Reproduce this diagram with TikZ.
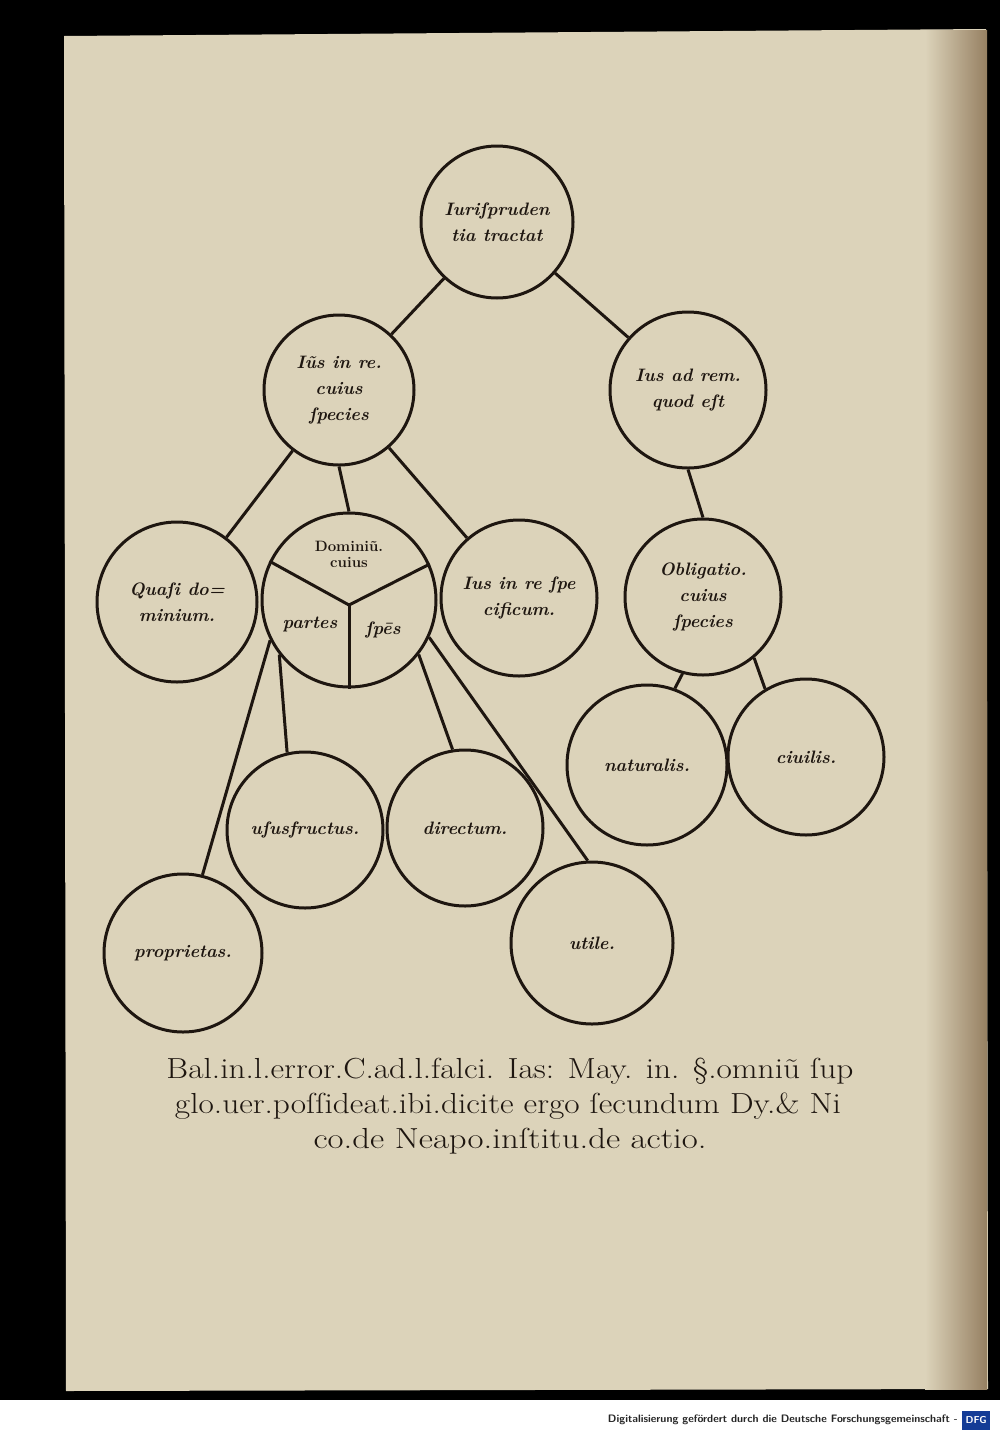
\documentclass[tikz,border=0pt]{standalone}
\usepackage{fontspec}
\usetikzlibrary{positioning}
\definecolor{paper}{RGB}{220,211,186}
\definecolor{paperdark}{RGB}{150,128,98}
\definecolor{ink}{RGB}{30,22,16}
\definecolor{dfgblue}{RGB}{20,60,150}

\begin{document}
\begin{tikzpicture}[
x=1pt,y=-1pt,
circ/.style={draw=ink,circle,line width=3pt,minimum size=156pt,inner sep=0pt,
  align=center,font=\fontsize{18}{26}\selectfont\bfseries\itshape,text=ink},
lbl/.style={font=\fontsize{18}{26}\selectfont\bfseries\itshape,text=ink,inner sep=0pt},
link/.style={draw=ink,line width=3pt},
capline/.style={font=\fontsize{29}{35}\selectfont,text=ink,anchor=base,inner sep=0pt}
]
\useasboundingbox (0,0) rectangle (1000,1438);
% page and scan frame
\fill[black] (0,0) rectangle (1000,1438);
\fill[paper] (64,36) -- (986,29) -- (988,1389) -- (66,1391) -- cycle;
\shade[left color=paper,right color=paperdark] (925,30) rectangle (987,1389);
\fill[white] (0,1400) rectangle (1000,1438);
\node[font=\sffamily\bfseries\fontsize{10.8}{12}\selectfont,text=black!85,anchor=east,inner sep=0pt] (credit) at (958,1420) {Digitalisierung gefördert durch die Deutsche Forschungsgemeinschaft -};
\node[fill=dfgblue,text=white,font=\sffamily\bfseries\fontsize{10}{11}\selectfont,minimum width=28pt,minimum height=19pt,inner sep=0pt,right=4pt of credit] (dfg) {DFG};

% circles
\node[circ,minimum size=152pt] (iuris) at (497,222) {Iuriſpruden\\tia tractat};
\node[circ,minimum size=150pt] (inre) at (339,390) {Iũs in re.\\cuius\\ſpecies};
\node[circ] (adrem) at (688,390) {Ius ad rem.\\quod eſt};
\node[circ,minimum size=174pt] (dom) at (349,600) {};
\node[circ,minimum size=160pt] (quasi) at (177,602) {Quaſi do=\\minium.};
\node[circ] (spec) at (519,598) {Ius in re ſpe\\cificum.};
\node[circ] (oblig) at (703,597) {Obligatio.\\cuius\\ſpecies};
\node[circ,minimum size=160pt] (natur) at (647,765) {naturalis.};
\node[circ] (ciuil) at (806,757) {ciuilis.};
\node[circ] (usus) at (305,830) {uſusfructus.};
\node[circ] (direct) at (465,828) {directum.};
\node[circ,minimum size=158pt] (propr) at (183,953) {proprietas.};
\node[circ,minimum size=162pt] (utile) at (592,943) {utile.};

% dominium split in three
\coordinate (domc) at (349,605);
\draw[link] (domc) -- (dom.154);
\draw[link] (domc) -- (dom.24);
\draw[link] (domc) -- (dom.south);
\node[lbl,align=center,font=\fontsize{15}{16}\selectfont\bfseries] (domtxt) at (349,554) {Dominiũ.\\cuius};
\node[lbl] (partes) at (310,624) {partes};
\node[lbl] (spes) at (383,630) {ſpēs};

% connectors
\draw[link] (iuris) -- (inre);
\draw[link] (iuris) -- (adrem);
\draw[link] (inre) -- (quasi);
\draw[link] (inre.south) -- (dom.north);
\draw[link] (inre) -- (spec);
\draw[link] (adrem.south) -- (oblig.north);
\draw[link] (oblig.255) -- (natur.70);
\draw[link] (oblig.310) -- (ciuil.121);
\draw[link] (dom.207) -- (propr.76);
\draw[link] (dom.218) -- (usus.103);
\draw[link] (dom.322) -- (direct.99);
\draw[link] (dom.335) -- (utile.93);

% caption
\node[capline] (cap1) at (510,1078) {\scalebox{1.15}[1]{Bal.in.l.error.C.ad.l.falci. Ias: May. in. §.omniũ ſup}};
\node[capline] (cap2) at (508,1113) {\scalebox{1.15}[1]{glo.uer.poſſideat.ibi.dicite ergo ſecundum Dy.\& Ni}};
\node[capline] (cap3) at (510,1148) {\scalebox{1.2}[1]{co.de Neapo.inſtitu.de actio.}};
\end{tikzpicture}
\end{document}
